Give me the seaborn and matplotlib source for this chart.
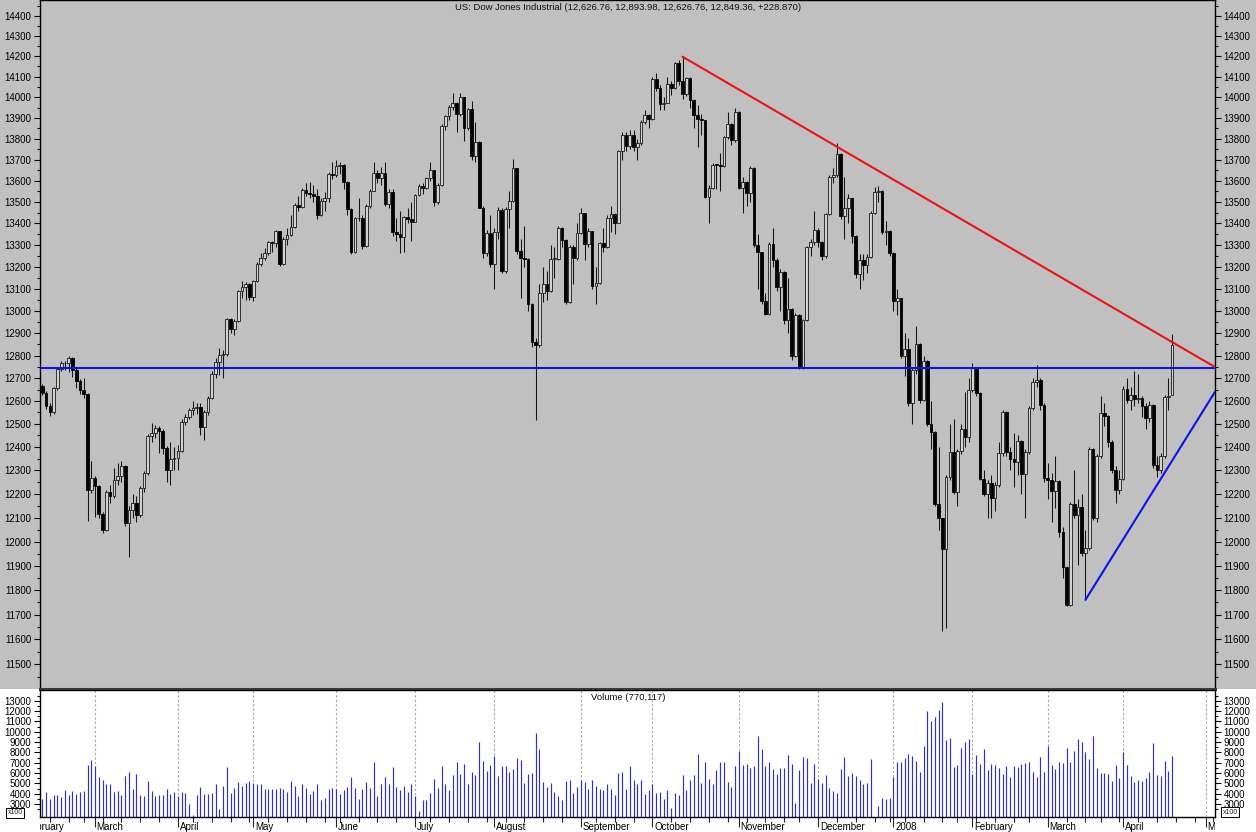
import matplotlib
matplotlib.use("Agg")
import matplotlib.pyplot as plt
import matplotlib.ticker as mticker
from matplotlib.patches import Rectangle
from matplotlib.transforms import Bbox, TransformedBbox, blended_transform_factory
import seaborn as sns
import numpy as np
import pandas as pd

# ---- data ----
TITLE = "US: Dow Jones Industrial (12,626.76, 12,893.98, 12,626.76, 12,849.36, +228.870)"
VOL_TITLE = "Volume (770,117)"

FIRST_DAY = "2007-02-08"
AXIS_START = "2007-02-01"
AXIS_END = "2008-05-06"
HOLIDAYS = ["2007-02-19", "2007-04-06", "2007-05-28", "2007-07-04", "2007-09-03",
            "2007-11-22", "2007-12-25", "2008-01-01", "2008-01-21", "2008-02-18",
            "2008-03-21"]
MONTH_LABELS = ["February", "March", "April", "May", "June", "July", "August",
                "September", "October", "November", "December", "2008",
                "February", "March", "April", "May"]

opens = [
    12666, 12637, 12580, 12552, 12655, 12742, 12765, 12768, 12787, 12738, 12686, 12647, 12632, 12216,
    12269, 12234, 12114, 12050, 12208, 12192, 12261, 12276, 12319, 12076, 12133, 12160, 12110, 12226, 12288, 12448, 12461, 12481, 12470, 12397, 12300, 12349,
    12354, 12382, 12510, 12530, 12560, 12569, 12574, 12485, 12553, 12612, 12720, 12773, 12804, 12809, 12962, 12919, 12954, 13090, 13106, 13121,
    13063, 13136, 13212, 13241, 13265, 13313, 13309, 13363, 13215, 13326, 13347, 13384, 13488, 13477, 13557, 13543, 13540, 13526, 13441, 13507, 13521, 13633,
    13628, 13668, 13676, 13595, 13466, 13267, 13424, 13425, 13295, 13482, 13554, 13639, 13613, 13635, 13489, 13546, 13360, 13352, 13338, 13428, 13422,
    13409, 13535, 13577, 13566, 13612, 13650, 13502, 13578, 13862, 13907, 13951, 13972, 13918, 14000, 13851, 13943, 13717, 13785, 13474, 13265, 13358,
    13212, 13362, 13463, 13182, 13469, 13504, 13658, 13271, 13240, 13237, 13029, 12861, 12846, 13079, 13121, 13091, 13236, 13236, 13379, 13322, 13042, 13289, 13239,
    13358, 13449, 13305, 13363, 13113, 13128, 13308, 13292, 13425, 13443, 13403, 13739, 13816, 13767, 13820, 13759, 13779, 13878, 13913,
    13896, 14088, 14047, 13968, 13974, 14066, 14044, 14165, 14079, 14015, 14093, 13985, 13913, 13893, 13889, 13522, 13567, 13676, 13675, 13672, 13807, 13870, 13792,
    13930, 13568, 13595, 13543, 13661, 13300, 13266, 13043, 12988, 13307, 13231, 13110, 13177, 12958, 13010, 12799, 12981, 12743, 12958, 13289, 13312,
    13372, 13315, 13249, 13445, 13620, 13626, 13727, 13433, 13474, 13518, 13340, 13167, 13232, 13207, 13246, 13451, 13549, 13552, 13360, 13366,
    13265, 13044, 13057, 12800, 12827, 12589, 12735, 12853, 12606, 12778, 12501, 12466, 12159, 12099, 11971, 12270, 12379, 12207, 12384, 12480, 12443,
    12650, 12743, 12635, 12265, 12200, 12247, 12182, 12240, 12373, 12552, 12377, 12348, 12337, 12427, 12284, 12381, 12570, 12685, 12694, 12582,
    12266, 12259, 12214, 12255, 12040, 11894, 11740, 12157, 12110, 12146, 11951, 11972, 12393, 12100, 12361, 12549, 12533, 12423, 12302, 12216,
    12263, 12654, 12606, 12626, 12609, 12612, 12576, 12527, 12582, 12325, 12302, 12362, 12619, 12627,
]
highs = [
    12675, 12645, 12590, 12662, 12750, 12775, 12778, 12796, 12792, 12748, 12695, 12700, 12635, 12340,
    12275, 12240, 12125, 12215, 12240, 12310, 12330, 12340, 12322, 12150, 12200, 12190, 12232, 12296, 12455, 12505, 12495, 12490, 12478, 12405, 12420, 12400,
    12410, 12520, 12545, 12568, 12600, 12592, 12590, 12560, 12620, 12730, 12790, 12835, 12825, 12968, 12970, 12962, 13095, 13135, 13130, 13125,
    13140, 13220, 13265, 13285, 13320, 13320, 13370, 13365, 13335, 13380, 13440, 13495, 13530, 13565, 13590, 13595, 13580, 13560, 13520, 13545, 13640, 13690,
    13700, 13690, 13680, 13600, 13470, 13430, 13520, 13440, 13490, 13560, 13690, 13650, 13665, 13690, 13560, 13560, 13425, 13460, 13435, 13470, 13500,
    13540, 13585, 13590, 13620, 13690, 13652, 13590, 13870, 13915, 13960, 14022, 13975, 14022, 14000, 13950, 13980, 13880, 13790, 13480, 13370, 13440,
    13380, 13475, 13470, 13475, 13550, 13705, 13660, 13330, 13390, 13240, 13035, 12880, 13120, 13200, 13180, 13300, 13290, 13390, 13385, 13330, 13300, 13300, 13400,
    13470, 13450, 13380, 13365, 13200, 13315, 13380, 13440, 13480, 13450, 13745, 13830, 13830, 13840, 13840, 13800, 13890, 13940, 13920,
    14100, 14120, 14060, 14000, 14100, 14080, 14170, 14180, 14198, 14100, 14100, 13990, 13960, 13920, 13890, 13580, 13685, 13680, 13730, 13815, 13930, 13875, 13950,
    13935, 13620, 13600, 13670, 13665, 13350, 13270, 13080, 13315, 13380, 13240, 13190, 13180, 13150, 13015, 12990, 12985, 12965, 13295, 13330, 13460,
    13380, 13320, 13450, 13625, 13660, 13780, 13730, 13620, 13540, 13520, 13345, 13260, 13260, 13260, 13460, 13570, 13575, 13555, 13410, 13370,
    13270, 13100, 13060, 12900, 12880, 12750, 12930, 12855, 12800, 12780, 12600, 12470, 12400, 12100, 12280, 12500, 12520, 12390, 12500, 12640, 12700,
    12765, 12745, 12640, 12300, 12260, 12280, 12250, 12420, 12560, 12555, 12400, 12460, 12450, 12430, 12390, 12580, 12700, 12760, 12700, 12590,
    12330, 12290, 12360, 12260, 12060, 11900, 12165, 12300, 12180, 12200, 12050, 12400, 12395, 12370, 12620, 12590, 12540, 12430, 12320, 12300,
    12665, 12700, 12660, 12730, 12720, 12620, 12590, 12600, 12585, 12360, 12375, 12625, 12700, 12894,
]
lows = [
    12625, 12565, 12535, 12545, 12648, 12730, 12738, 12725, 12705, 12655, 12630, 12612, 12085, 12205,
    12105, 12100, 12035, 12045, 12160, 12185, 12240, 12250, 12065, 11935, 12100, 12080, 12105, 12210, 12280, 12420, 12440, 12375, 12370, 12250, 12240, 12300,
    12300, 12378, 12495, 12520, 12540, 12545, 12450, 12430, 12540, 12608, 12700, 12715, 12700, 12800, 12900, 12890, 12950, 13060, 13050, 13050,
    13045, 13130, 13205, 13230, 13255, 13270, 13290, 13205, 13210, 13300, 13340, 13380, 13460, 13470, 13530, 13520, 13500, 13420, 13435, 13460, 13500, 13610,
    13620, 13630, 13560, 13440, 13260, 13262, 13410, 13280, 13290, 13470, 13550, 13590, 13580, 13480, 13470, 13340, 13320, 13262, 13270, 13400, 13320,
    13405, 13530, 13540, 13560, 13600, 13480, 13490, 13575, 13840, 13890, 13940, 13830, 13910, 13790, 13840, 13700, 13690, 13470, 13240, 13250, 13200,
    13100, 13330, 13170, 13170, 13380, 13500, 13260, 13060, 13200, 13000, 12840, 12518, 12840, 13040, 13050, 13085, 13150, 13230, 13290, 13030, 13035, 13120, 13230,
    13350, 13230, 13290, 13100, 13030, 13120, 13270, 13285, 13360, 13350, 13400, 13700, 13740, 13750, 13740, 13700, 13770, 13870, 13850,
    13890, 14030, 13940, 13940, 13970, 14010, 14040, 14060, 13990, 14005, 13950, 13850, 13760, 13820, 13520, 13400, 13560, 13560, 13550, 13665, 13800, 13770, 13785,
    13560, 13450, 13480, 13500, 13290, 13100, 13030, 12980, 12980, 13200, 13090, 13000, 12940, 12900, 12780, 12795, 12740, 12740, 12955, 13250, 13300,
    13290, 13230, 13240, 13440, 13590, 13620, 13420, 13330, 13400, 13310, 13150, 13100, 13140, 13170, 13240, 13445, 13500, 13350, 13300, 13250,
    13000, 12980, 12790, 12710, 12580, 12500, 12720, 12590, 12600, 12490, 12390, 12150, 12050, 11635, 11645, 12260, 12200, 12150, 12370, 12400, 12420,
    12640, 12620, 12260, 12190, 12100, 12100, 12130, 12230, 12360, 12360, 12300, 12230, 12280, 12200, 12100, 12370, 12560, 12660, 12560, 12250,
    12180, 12080, 12140, 12020, 11850, 11735, 11735, 12100, 11905, 11940, 11760, 11965, 12090, 12080, 12355, 12490, 12400, 12290, 12160, 12200,
    12260, 12590, 12560, 12580, 12590, 12530, 12480, 12510, 12310, 12270, 12290, 12355, 12560, 12627,
]
closes = [
    12637, 12580, 12552, 12655, 12742, 12765, 12768, 12787, 12738, 12686, 12647, 12632, 12216, 12269,
    12234, 12114, 12050, 12208, 12192, 12261, 12276, 12319, 12076, 12133, 12160, 12110, 12226, 12288, 12448, 12461, 12481, 12470, 12397, 12300, 12349, 12354,
    12382, 12510, 12530, 12560, 12569, 12574, 12485, 12553, 12612, 12720, 12773, 12804, 12809, 12962, 12919, 12954, 13090, 13106, 13121, 13063,
    13136, 13212, 13241, 13265, 13313, 13309, 13363, 13215, 13326, 13347, 13384, 13488, 13477, 13557, 13543, 13540, 13526, 13441, 13507, 13521, 13633, 13628,
    13668, 13676, 13595, 13466, 13267, 13424, 13425, 13295, 13482, 13554, 13639, 13613, 13635, 13489, 13546, 13360, 13352, 13338, 13428, 13422, 13409,
    13535, 13577, 13566, 13612, 13650, 13502, 13578, 13862, 13907, 13951, 13972, 13918, 14000, 13851, 13943, 13717, 13785, 13474, 13265, 13358, 13212,
    13362, 13463, 13182, 13469, 13504, 13658, 13271, 13240, 13237, 13029, 12861, 12846, 13079, 13121, 13091, 13236, 13236, 13379, 13322, 13042, 13289, 13239, 13358,
    13449, 13305, 13363, 13113, 13128, 13308, 13292, 13425, 13443, 13403, 13739, 13816, 13767, 13820, 13759, 13779, 13878, 13913, 13896,
    14088, 14047, 13968, 13974, 14066, 14044, 14165, 14079, 14015, 14093, 13985, 13913, 13893, 13889, 13522, 13567, 13676, 13675, 13672, 13807, 13870, 13792, 13930,
    13568, 13595, 13543, 13661, 13300, 13266, 13043, 12988, 13307, 13231, 13110, 13177, 12958, 13010, 12799, 12981, 12743, 12958, 13289, 13312, 13372,
    13315, 13249, 13445, 13620, 13626, 13727, 13433, 13474, 13518, 13340, 13167, 13232, 13207, 13246, 13451, 13549, 13552, 13360, 13366, 13265,
    13044, 13057, 12800, 12827, 12589, 12735, 12853, 12606, 12778, 12501, 12466, 12159, 12099, 11971, 12270, 12379, 12207, 12384, 12480, 12443, 12650,
    12743, 12635, 12265, 12200, 12247, 12182, 12240, 12373, 12552, 12377, 12348, 12337, 12427, 12284, 12381, 12570, 12685, 12694, 12582, 12266,
    12259, 12214, 12255, 12040, 11894, 11740, 12157, 12110, 12146, 11951, 11972, 12393, 12100, 12361, 12549, 12533, 12423, 12302, 12216, 12263,
    12654, 12606, 12626, 12609, 12612, 12576, 12527, 12582, 12325, 12302, 12362, 12619, 12620, 12849,
]
# volume in hundreds of shares (axis is marked x100)
volumes = [
    3500, 4200, 3500, 3900, 3900, 3700, 4400, 3900, 4300, 4000, 4200, 4300, 6800, 7300,
    6700, 5600, 5300, 4900, 4900, 4200, 4300, 3900, 5700, 6100, 4500, 5900, 3900, 3800, 5200, 4300, 3800, 3900, 3900, 4500, 4000, 4200,
    3800, 4200, 4100, 3000, 1900, 3900, 4700, 4000, 4000, 4100, 4900, 2500, 4800, 6600, 4100, 4600, 5100, 4800, 5000, 5200,
    5000, 4900, 4900, 4500, 4500, 4500, 4500, 4600, 4500, 4200, 5200, 4800, 3800, 4900, 4600, 4000, 4300, 4900, 3400, 3600, 4500, 4600,
    4500, 4000, 4400, 4700, 5600, 4600, 3500, 4500, 5100, 4600, 7100, 3800, 4900, 5600, 4900, 6600, 4700, 4400, 4800, 4200, 4900,
    3800, 2300, 3400, 3400, 4100, 5400, 4600, 6700, 4900, 4400, 5800, 7100, 5900, 6900, 4900, 6100, 5800, 9000, 7200, 6200, 6800,
    7700, 5700, 6700, 6700, 6100, 6400, 7500, 7300, 5000, 5900, 6000, 9900, 8300, 5100, 4700, 5000, 4200, 3800, 3400, 5200, 5300, 4100, 4700,
    5300, 5100, 4500, 5300, 4800, 4500, 4400, 4900, 4500, 3900, 6000, 6100, 4500, 6700, 5300, 4900, 5300, 4000, 4400,
    4900, 4100, 4200, 3500, 4400, 2600, 4100, 3900, 5800, 4400, 5300, 5800, 7900, 5000, 7100, 5400, 4900, 6300, 7100, 7100, 5100, 4700, 6700,
    8100, 6800, 6900, 6500, 6700, 9600, 8300, 6700, 7100, 6400, 5900, 6500, 6500, 7800, 6900, 3100, 6300, 7600, 7500, 5000, 6900,
    5400, 5000, 5800, 4600, 4300, 4100, 6400, 7600, 5700, 6000, 5700, 5300, 4900, 5000, 7400, 1000, 2800, 3600, 3500, 3600,
    5600, 7100, 7100, 7500, 7900, 7700, 7200, 6100, 8600, 12000, 11000, 11400, 12100, 12900, 9200, 9400, 6600, 6800, 8400, 9000, 9300,
    5900, 7800, 6900, 8300, 6300, 6900, 6800, 6500, 5900, 6700, 5600, 6700, 6600, 6900, 7000, 7100, 6100, 5600, 7600, 6100,
    8600, 6800, 6400, 7100, 7000, 8400, 7100, 8100, 9300, 9000, 8000, 7400, 9600, 6500, 6000, 6000, 5900, 5200, 6800, 5500,
    8000, 6800, 5700, 5100, 5300, 5200, 5500, 6100, 8900, 5800, 5700, 7200, 6200, 7701,
]

# trend lines drawn on the chart: (anchor date, anchor price, price at right edge)
RED_LINE = ("2007-10-11", 14198, 12749)
BLUE_FLAT = 12745
BLUE_RISE = ("2008-03-17", 11760, 12640)

# ---- style ----
sns.set_style("ticks")
plt.rcParams["font.family"] = ["Liberation Sans", "DejaVu Sans"]
plt.rcParams["axes.linewidth"] = 1.0

PANEL_GRAY = "#c0c0c0"
UP_FILL = "#d2d2d2"
VOL_BLUE = "#3535b2"

W, H = 1256, 832
AX_L, AX_R = 39.5, 1215
P_BOT = 689
V_TOP, V_BOT = 690, 817

# ---- trading-day positions ----
days = pd.bdate_range(AXIS_START, AXIS_END, freq="C", holidays=HOLIDAYS)
first = days.get_loc(pd.Timestamp(FIRST_DAY))
pos = np.arange(len(days)) - first
n = len(closes)
df = pd.DataFrame({"x": pos[first:first + n], "open": opens, "high": highs,
                   "low": lows, "close": closes, "volume": volumes})

month_start = np.r_[True, days.month[1:] != days.month[:-1]]
week_start = np.r_[True, days.weekday[1:] <= days.weekday[:-1]]
month_pos = pos[month_start]
week_pos = pos[week_start & ~month_start]

def idx_of(d):
    return pos[days.get_loc(pd.Timestamp(d))]

X_MIN, X_MAX = -0.75, 311.4

# ---- figure ----
fig = plt.figure(figsize=(W / 100, H / 100), dpi=100)
fig.patch.set_facecolor("white")
fig.patches.append(Rectangle((0, 1 - P_BOT / H), 1, P_BOT / H, transform=fig.transFigure,
                             facecolor=PANEL_GRAY, edgecolor="none", zorder=-10))

ax_p = fig.add_axes([AX_L / W, 1 - P_BOT / H, (AX_R - AX_L) / W, P_BOT / H])
ax_v = fig.add_axes([AX_L / W, 1 - V_BOT / H, (AX_R - AX_L) / W, (V_BOT - V_TOP) / H])
ax_p.set_facecolor(PANEL_GRAY)
ax_v.set_facecolor("white")

# price panel
ax_p.set_yscale("log")
up = df["close"] >= df["open"]
body_lo = np.minimum(df["open"], df["close"])
body_h = np.maximum((df["close"] - df["open"]).abs(), 3)
ax_p.vlines(df["x"], df["low"], df["high"], color="#151515", lw=0.75, zorder=2)
ax_p.bar(df["x"][up], body_h[up], bottom=body_lo[up], width=0.72,
         color=UP_FILL, edgecolor="#1a1a1a", linewidth=0.6, zorder=3)
ax_p.bar(df["x"][~up], body_h[~up], bottom=body_lo[~up], width=0.72,
         color="black", edgecolor="black", linewidth=0.6, zorder=3)

red_df = pd.DataFrame({"x": [idx_of(RED_LINE[0]), X_MAX], "y": [RED_LINE[1], RED_LINE[2]]})
flat_df = pd.DataFrame({"x": [X_MIN, X_MAX], "y": [BLUE_FLAT, BLUE_FLAT]})
rise_df = pd.DataFrame({"x": [idx_of(BLUE_RISE[0]), X_MAX], "y": [BLUE_RISE[1], BLUE_RISE[2]]})
sns.lineplot(data=flat_df, x="x", y="y", ax=ax_p, color="#1010ee", lw=1.5,
             estimator=None, sort=False, zorder=5)
sns.lineplot(data=rise_df, x="x", y="y", ax=ax_p, color="#1010ee", lw=1.5,
             estimator=None, sort=False, zorder=5)
sns.lineplot(data=red_df, x="x", y="y", ax=ax_p, color="#ee1111", lw=1.5,
             estimator=None, sort=False, zorder=5)
ax_p.set_xlabel("")
ax_p.set_ylabel("")

ax_p.yaxis.set_major_locator(mticker.FixedLocator(np.arange(11500, 14401, 100)))
ax_p.yaxis.set_minor_locator(mticker.FixedLocator(np.arange(11450, 14451, 100)))
ax_p.yaxis.set_major_formatter(mticker.FuncFormatter(lambda v, p: f"{v:.0f}"))
ax_p.yaxis.set_minor_formatter(mticker.NullFormatter())
ax_p.tick_params(axis="y", which="both", left=True, right=True, labelleft=True,
                 labelright=True, direction="out", labelsize=7, pad=1.5, colors="black")
ax_p.tick_params(axis="y", which="major", length=4.5, width=0.8)
ax_p.tick_params(axis="y", which="minor", length=2.5, width=0.8)
ax_p.tick_params(axis="x", which="both", bottom=False, labelbottom=False)
ax_p.set_xlim(X_MIN, X_MAX)
ax_p.set_ylim(11402, 14480)
for s in ax_p.spines.values():
    s.set_color("black")
    s.set_visible(True)
ax_p.spines["bottom"].set_linewidth(2.2)
ax_p.spines["bottom"].set_color("#3c3c3c")

# volume panel
for p in month_pos:
    ax_v.axvline(p, color="#a8a8a8", lw=0.8, ls=(0, (2, 2)), zorder=0)
ax_v.vlines(df["x"], 0, df["volume"], color=VOL_BLUE, lw=0.85, zorder=2)
ax_v.yaxis.set_major_locator(mticker.FixedLocator(np.arange(3000, 13001, 1000)))
ax_v.yaxis.set_minor_locator(mticker.FixedLocator(np.arange(2500, 13600, 1000)))
ax_v.yaxis.set_minor_formatter(mticker.NullFormatter())
ax_v.tick_params(axis="y", which="both", left=True, right=True, labelleft=True,
                 labelright=True, direction="out", labelsize=7, pad=1.5, colors="black")
ax_v.tick_params(axis="y", which="major", length=4.5, width=0.8)
ax_v.tick_params(axis="y", which="minor", length=2.5, width=0.8)
ax_v.set_xticks(month_pos)
ax_v.set_xticks(week_pos, minor=True)
ax_v.set_xticklabels([])
ax_v.tick_params(axis="x", which="major", length=7, width=0.8, direction="out")
ax_v.tick_params(axis="x", which="minor", length=3.5, width=0.8, direction="out")
# limits after the ticks, so the tick list cannot widen the view
ax_v.set_xlim(X_MIN, X_MAX)
ax_v.set_ylim(1750, 14050)
for s in ax_v.spines.values():
    s.set_color("black")
    s.set_visible(True)

# month names under the volume panel, clipped at the plot edges
clip = TransformedBbox(Bbox([[AX_L / W, 0], [AX_R / W, 1]]), fig.transFigure)
trans = blended_transform_factory(ax_v.transData, ax_v.transAxes)
for p, lab in zip(month_pos, MONTH_LABELS):
    t = ax_v.text(p + 0.45, -0.075, lab, transform=trans, ha="left", va="center",
                  fontsize=7, color="black", clip_on=True)
    t.set_clip_box(clip)

# texts
fig.text(0.5, 1 - 8 / H, TITLE, ha="center", va="center", fontsize=6.8, color="#111111")
fig.text(628 / W, 1 - 697 / H, VOL_TITLE, ha="center", va="center", fontsize=6.8, color="#111111")
box = dict(boxstyle="square,pad=0.15", facecolor="white", edgecolor="black", lw=0.7)
fig.text(15 / W, 1 - 813 / H, "x100", ha="center", va="center", fontsize=5, bbox=box)
fig.text(1230 / W, 1 - 812 / H, "x100", ha="center", va="center", fontsize=5, bbox=box)

fig.savefig("out.png", dpi=100, facecolor=fig.get_facecolor())
